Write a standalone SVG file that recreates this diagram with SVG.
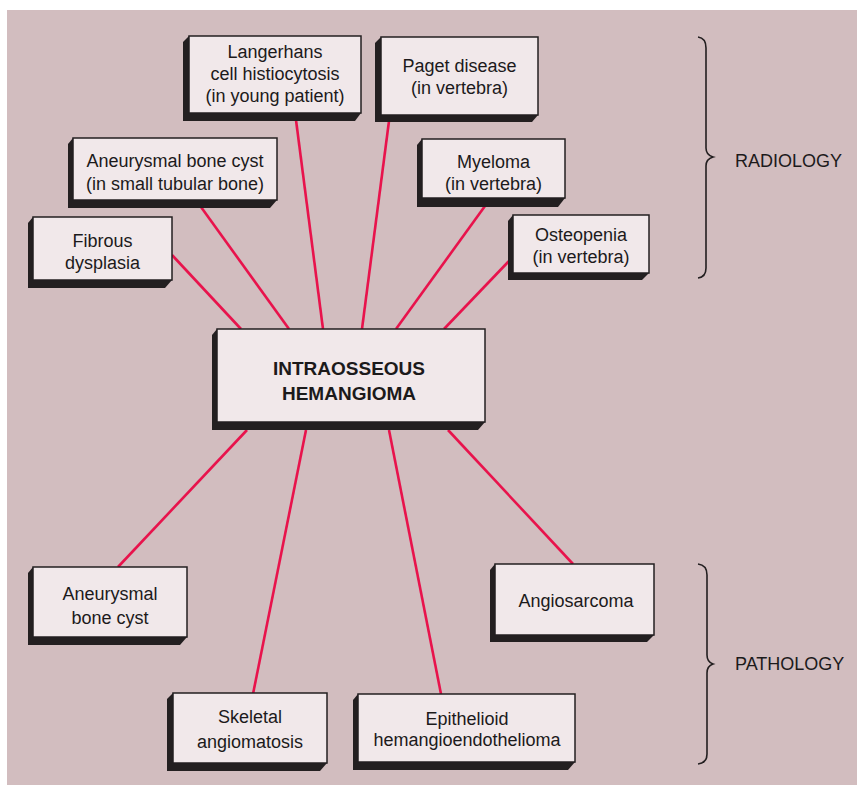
<svg xmlns="http://www.w3.org/2000/svg" width="857" height="785" viewBox="0 0 857 785">
  <style>
    .bg { fill: #d2bdbf; }
    .face { fill: #f1e8ea; stroke: #231f20; stroke-width: 1.5; }
    .shadow { fill: #231f20; }
    .lbl { font-family: "Liberation Sans", Arial, sans-serif; font-size: 18px; fill: #1c1a1b; text-anchor: middle; }
    .main { font-weight: bold; font-size: 19px; }
    .side { font-family: "Liberation Sans", Arial, sans-serif; font-size: 18px; fill: #1c1a1b; }
    .link { stroke: #e8134c; stroke-width: 2.6; fill: none; stroke-linecap: butt; }
    .brace { stroke: #231f20; stroke-width: 1.6; fill: none; }
  </style>

  <rect class="bg" x="7" y="10" width="850" height="775"/>

  <!-- connectors from the central box -->
  <g id="connectors">
    <line class="link" x1="172" y1="255" x2="241" y2="329"/>
    <line class="link" x1="201" y1="207" x2="289" y2="329"/>
    <line class="link" x1="296" y1="120" x2="323" y2="329"/>
    <line class="link" x1="389" y1="121" x2="362" y2="329"/>
    <line class="link" x1="485" y1="206" x2="396" y2="329"/>
    <line class="link" x1="509" y1="261" x2="444" y2="329"/>
    <line class="link" x1="247" y1="430" x2="118" y2="567"/>
    <line class="link" x1="306" y1="430" x2="253" y2="694"/>
    <line class="link" x1="389" y1="430" x2="441" y2="694"/>
    <line class="link" x1="448" y1="430" x2="573" y2="564"/>
  </g>

  <!-- radiology nodes -->
  <g id="langerhans">
    <polygon class="shadow" points="189,36 183,42 183,121 355,121 361,113"/>
    <rect class="face" x="189" y="36" width="172" height="77"/>
    <text class="lbl" x="275" y="58">Langerhans</text>
    <text class="lbl" x="275" y="80">cell histiocytosis</text>
    <text class="lbl" x="275" y="102">(in young patient)</text>
  </g>

  <g id="paget">
    <polygon class="shadow" points="381,37 375,43 375,122 532,122 538,115"/>
    <rect class="face" x="381" y="37" width="157" height="78"/>
    <text class="lbl" x="459.5" y="72">Paget disease</text>
    <text class="lbl" x="459.5" y="94">(in vertebra)</text>
  </g>

  <g id="myeloma">
    <polygon class="shadow" points="422,139 417,145 417,207 558,207 565,198"/>
    <rect class="face" x="422" y="139" width="143" height="59"/>
    <text class="lbl" x="493.5" y="168">Myeloma</text>
    <text class="lbl" x="493.5" y="190">(in vertebra)</text>
  </g>

  <g id="osteopenia">
    <polygon class="shadow" points="513,215 508,221 508,280 642,280 649,273"/>
    <rect class="face" x="513" y="215" width="136" height="58"/>
    <text class="lbl" x="581" y="241">Osteopenia</text>
    <text class="lbl" x="581" y="263">(in vertebra)</text>
  </g>

  <g id="abc-tubular">
    <polygon class="shadow" points="73,138 68,144 68,208 270,208 277,200"/>
    <rect class="face" x="73" y="138" width="204" height="62"/>
    <text class="lbl" x="175" y="167">Aneurysmal bone cyst</text>
    <text class="lbl" x="175" y="190">(in small tubular bone)</text>
  </g>

  <g id="fibrous-dysplasia">
    <polygon class="shadow" points="33,217 28,223 28,288 165,288 172,280"/>
    <rect class="face" x="33" y="217" width="139" height="63"/>
    <text class="lbl" x="102.5" y="247">Fibrous</text>
    <text class="lbl" x="102.5" y="269">dysplasia</text>
  </g>

  <!-- central node -->
  <g id="hemangioma">
    <polygon class="shadow" points="217,329 212,335 212,430 478,430 485,422"/>
    <rect class="face" x="217" y="329" width="268" height="93"/>
    <text class="lbl main" x="349" y="375">INTRAOSSEOUS</text>
    <text class="lbl main" x="349" y="400">HEMANGIOMA</text>
  </g>

  <!-- pathology nodes -->
  <g id="abc">
    <polygon class="shadow" points="33,567 28,573 28,645 180,645 187,637"/>
    <rect class="face" x="33" y="567" width="154" height="70"/>
    <text class="lbl" x="110" y="600">Aneurysmal</text>
    <text class="lbl" x="110" y="624">bone cyst</text>
  </g>

  <g id="skeletal-angiomatosis">
    <polygon class="shadow" points="173,693 167,699 167,771 320,771 327,763"/>
    <rect class="face" x="173" y="693" width="154" height="70"/>
    <text class="lbl" x="250" y="723">Skeletal</text>
    <text class="lbl" x="250" y="748">angiomatosis</text>
  </g>

  <g id="epithelioid">
    <polygon class="shadow" points="358,694 353,700 353,770 568,770 575,762"/>
    <rect class="face" x="358" y="694" width="217" height="68"/>
    <text class="lbl" x="467" y="725">Epithelioid</text>
    <text class="lbl" x="467" y="746">hemangioendothelioma</text>
  </g>

  <g id="angiosarcoma">
    <polygon class="shadow" points="495,564 490,570 490,642 647,642 654,635"/>
    <rect class="face" x="495" y="564" width="159" height="71"/>
    <text class="lbl" x="576" y="607">Angiosarcoma</text>
  </g>

  <!-- group braces -->
  <g id="radiology">
    <path class="brace" d="M698,37 Q706,38 706,48 L706,148 Q706,155 713,157 Q706,159 706,166 L706,268 Q706,277 698,278"/>
    <text class="side" x="735" y="167">RADIOLOGY</text>
  </g>
  <g id="pathology">
    <path class="brace" d="M698,564 Q707,565 707,575 L707,655 Q707,662 713,664 Q707,666 707,673 L707,754 Q707,763 698,764"/>
    <text class="side" x="735" y="670">PATHOLOGY</text>
  </g>
</svg>
